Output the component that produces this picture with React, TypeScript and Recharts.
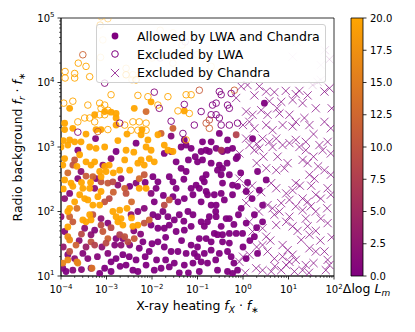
import { Bar, BarChart, ReferenceArea, Scatter, ScatterChart, XAxis, YAxis } from "recharts"

// points are [log10 x, log10 y, Δlog L_m, alpha?]
const allowedOrange = [
  [-3.81, 3.6, 20], [-3.92, 3.37, 20], [-3.92, 3.27, 20], [-3.74, 3.29, 20], [-3.26, 3.5, 20], [-3.04, 3.55, 20],
  [-2.9, 3.54, 20], [-2.79, 3.52, 20], [-2.79, 3.45, 20], [-3.23, 3.27, 20], [-3.12, 3.27, 20], [-2.79, 3.34, 20],
  [-2.39, 3.6, 20], [-2.02, 3.7, 20], [-1.29, 3.56, 20], [-2.24, 3.19, 20], [-2.22, 3.27, 20], [-3.81, 3.11, 20],
  [-3.7, 3.08, 20], [-3.56, 3.08, 20], [-2.09, 3.11, 20], [-1.87, 3.19, 20], [-4.0, 3.0, 20], [-3.85, 3.03, 20],
  [-3.37, 3.0, 20], [-3.23, 2.98, 20], [-3.04, 3.0, 20], [-2.57, 2.95, 20], [-3.92, 2.82, 20], [-3.96, 2.72, 20],
  [-3.59, 2.88, 20], [-3.45, 2.77, 20], [-3.34, 2.72, 20], [-3.26, 2.77, 20], [-3.04, 2.7, 20], [-2.94, 2.72, 20],
  [-3.01, 2.62, 20], [-3.15, 2.62, 20], [-3.12, 2.54, 20], [-2.71, 2.64, 20], [-2.49, 2.64, 20], [-3.92, 2.49, 20],
  [-3.78, 2.44, 20], [-3.74, 2.39, 20], [-3.52, 2.36, 20], [-3.37, 2.36, 20], [-3.59, 2.26, 20], [-3.48, 2.2, 20],
  [-3.41, 2.18, 20], [-3.19, 2.23, 20], [-3.12, 2.31, 20], [-2.28, 2.36, 20], [-2.13, 2.36, 20], [-2.24, 2.8, 20],
  [-2.31, 2.75, 20], [-2.17, 2.72, 20], [-2.06, 2.82, 20], [-1.95, 2.77, 20], [-2.13, 3.0, 20], [-2.02, 2.95, 20],
  [-1.73, 3.03, 20], [-1.65, 2.95, 20], [-1.54, 2.93, 20], [-3.81, 2.05, 20], [-3.85, 2.0, 20], [-3.37, 1.95, 20],
  [-3.34, 1.87, 20], [-2.86, 2.0, 20], [-2.79, 1.92, 20], [-2.71, 2.02, 20], [-2.68, 1.89, 20], [-2.75, 1.84, 20],
  [-2.64, 1.79, 20], [-2.42, 1.77, 20], [-2.31, 1.79, 20], [-3.52, 1.87, 20], [-3.45, 1.84, 20], [-3.15, 2.1, 20],
  [-3.85, 1.76, 20], [-3.85, 1.61, 17], [-3.81, 1.56, 17], [-3.63, 1.2, 16], [-3.96, 1.2, 16], [-3.85, 1.25, 17],
  [-3.65, 1.22, 16], [-3.32, 1.12, 14], [-3.65, 2.7, 20], [-3.55, 2.45, 20], [-3.35, 2.45, 20], [-2.85, 2.6, 20],
  [-2.6, 2.8, 20], [-2.4, 2.92, 20], [-2.75, 3.1, 20], [-2.55, 3.2, 20], [-3.45, 3.2, 20], [-3.95, 3.1, 20],
  [-3.3, 2.1, 20], [-2.55, 2.05, 20], [-2.45, 1.9, 20], [-3.7, 2.15, 20], [-3.95, 2.35, 20],
]

const allowedMid = [
  [-3.7, 2.8, 11], [-3.74, 2.72, 10], [-3.3, 2.54, 12], [-3.12, 2.46, 10], [-2.97, 2.44, 11], [-2.86, 2.46, 9],
  [-2.6, 2.36, 12], [-2.57, 2.28, 10], [-2.28, 2.51, 13], [-2.17, 2.57, 11], [-2.94, 2.2, 9], [-3.04, 2.15, 10],
  [-3.74, 1.84, 11], [-3.81, 1.92, 12], [-3.12, 1.79, 9], [-3.08, 1.69, 11], [-2.71, 1.64, 8], [-2.6, 1.61, 10],
  [-2.97, 1.58, 12], [-3.01, 1.51, 9], [-3.34, 1.53, 10], [-3.26, 1.48, 8], [-2.53, 1.53, 9], [-2.39, 1.58, 11],
  [-3.67, 1.48, 12], [-3.81, 1.38, 10], [-2.17, 1.82, 10], [-2.06, 1.87, 12], [-1.73, 2.1, 9], [-1.62, 2.18, 11],
  [-2.13, 3.55, 13], [-1.54, 3.29, 12], [-0.15, 3.19, 8], [-1.8, 3.21, 12], [-0.48, 2.95, 6], [-3.55, 1.65, 9],
  [-3.3, 1.95, 10], [-2.85, 2.3, 12], [-2.45, 2.15, 13], [-3.85, 2.6, 13], [-3.45, 2.55, 11], [-2.9, 1.75, 9],
  [-3.65, 2.05, 14],
]

const allowedPurple = [
  [-3.24, 3.13, 1], [-2.35, 3.06, 0], [-1.58, 3.17, 1], [-1.29, 3.11, 0], [0.47, 3.68, 0], [-0.52, 3.21, 0],
  [-0.89, 3.08, 0], [-0.7, 3.08, 0], [-0.34, 3.11, 0], [0.21, 3.13, 0], [-3.63, 2.95, 1], [-2.9, 2.82, 1],
  [-2.79, 2.93, 0], [-3.08, 2.72, 2], [-3.23, 2.51, 1], [-3.26, 2.36, 2], [-3.63, 2.51, 1], [-3.56, 2.62, 2],
  [-3.81, 2.28, 1], [-3.92, 2.2, 2], [-2.68, 2.51, 1], [-2.75, 2.41, 2], [-2.49, 2.39, 0], [-2.35, 2.44, 1],
  [-1.98, 2.54, 0], [-1.87, 2.46, 0], [-1.73, 2.9, 0], [-1.58, 2.93, 0], [-1.47, 2.77, 0], [-1.36, 2.67, 0],
  [-1.25, 2.62, 0], [-1.62, 2.54, 0], [-1.54, 2.46, 0], [-1.47, 2.36, 0], [-1.91, 2.36, 0], [-2.02, 2.28, 1],
  [-1.54, 2.23, 0], [-1.43, 2.15, 0], [-1.29, 2.2, 0], [-1.14, 2.36, 0], [-1.1, 2.26, 0], [-2.17, 2.05, 1],
  [-2.31, 2.0, 1], [-2.46, 1.95, 2], [-1.98, 1.95, 0], [-1.87, 1.92, 0], [-1.76, 2.0, 0], [-1.65, 1.92, 0],
  [-1.51, 1.87, 0], [-1.4, 1.95, 0], [-1.21, 2.0, 0], [-1.1, 1.95, 0], [-2.02, 1.79, 0], [-1.87, 1.74, 0],
  [-1.73, 1.74, 0], [-1.62, 1.79, 0], [-1.47, 1.69, 0], [-1.29, 1.71, 0], [-1.14, 1.77, 0], [-2.64, 1.58, 1],
  [-2.49, 1.48, 1], [-2.68, 1.48, 2], [-2.2, 1.53, 0], [-2.28, 1.43, 0], [-2.06, 1.38, 0], [-1.87, 1.53, 0],
  [-1.73, 1.45, 0], [-1.58, 1.38, 0], [-1.43, 1.38, 0], [-1.25, 1.35, 0], [-1.14, 1.48, 0], [-1.07, 1.35, 0],
  [-3.48, 1.74, 2], [-3.34, 1.64, 2], [-3.26, 1.71, 1], [-3.52, 1.35, 1], [-3.41, 1.27, 1], [-3.7, 1.27, 2],
  [-3.85, 1.33, 1], [-3.96, 1.12, 1], [-3.89, 1.07, 0], [-3.74, 1.09, 1], [-3.34, 1.12, 0], [-3.15, 1.04, 0],
  [-3.04, 1.12, 0], [-2.9, 1.07, 0], [-2.97, 1.35, 1], [-2.79, 1.27, 0], [-2.64, 1.33, 0], [-2.57, 1.17, 0],
  [-2.42, 1.09, 0], [-2.31, 1.07, 0], [-2.13, 1.17, 0], [-1.95, 1.09, 0], [-1.8, 1.12, 0], [-1.62, 1.14, 0],
  [-1.51, 1.2, 0], [-1.29, 1.17, 0], [-1.1, 1.2, 0], [-2.79, 1.58, 1], [-2.82, 1.48, 1], [-4.0, 1.92, 2],
  [-3.92, 1.69, 1], [-3.12, 1.89, 2], [-2.97, 1.82, 1], [-1.36, 3.0, 0], [-1.25, 3.03, 0], [-1.14, 2.98, 0],
  [-0.92, 2.93, 0], [-0.81, 2.95, 0], [-0.74, 2.93, 0], [-0.59, 2.98, 0], [-0.45, 2.93, 0], [-0.34, 2.95, 0],
  [-0.23, 2.98, 0], [-1.0, 2.77, 0], [-0.89, 2.8, 0], [-0.52, 2.72, 0], [-0.45, 2.67, 0], [-0.56, 2.64, 0],
  [-0.15, 2.82, 0], [-0.12, 2.85, 0], [-0.81, 2.57, 0], [-0.48, 2.57, 0], [-0.3, 2.57, 0], [-0.89, 2.51, 0],
  [-0.85, 2.46, 0], [0.51, 2.49, 0], [0.32, 2.62, 0], [-1.03, 2.41, 0], [-0.96, 2.36, 0], [-0.45, 2.44, 0],
  [-0.23, 2.41, 0], [-0.12, 2.39, 0], [-0.81, 2.31, 0], [-0.78, 2.26, 0], [-0.48, 2.28, 0], [-0.63, 2.26, 0],
  [-0.23, 2.26, 0], [0.07, 2.31, 0], [0.36, 2.33, 0], [-0.92, 2.15, 0], [-0.7, 2.1, 0], [-0.59, 2.1, 0],
  [-0.41, 2.18, 0], [0.43, 2.1, 0], [-0.04, 2.05, 0], [-0.74, 1.92, 0], [-0.59, 1.92, 0], [-0.37, 1.89, 0],
  [-0.3, 1.89, 0], [-0.92, 1.84, 0], [-0.78, 1.84, 0], [-0.85, 1.77, 0], [-0.48, 1.77, 0], [0.07, 1.82, 0],
  [0.43, 1.84, 0], [-0.63, 1.66, 0], [-0.56, 1.64, 0], [-0.45, 1.64, 0], [-0.3, 1.66, 0], [-0.15, 1.66, 0],
  [-0.01, 1.66, 0], [-0.96, 1.58, 0], [-0.81, 1.58, 0], [-0.7, 1.53, 0], [0.25, 1.61, 0], [-0.7, 1.4, 0],
  [-0.52, 1.35, 0], [-0.34, 1.38, 0], [-0.26, 1.3, 0], [0.32, 1.35, 0], [0.07, 1.27, 0], [-0.92, 1.22, 0],
  [-0.78, 1.2, 0], [-0.56, 1.09, 0], [-0.34, 1.07, 0], [-0.12, 1.09, 0], [-0.23, 1.04, 0], [-0.96, 1.07, 0],
  [-0.45, 1.53, 0], [-0.3, 1.51, 0], [-3.6, 1.55, 2], [-3.55, 1.1, 1], [-3.2, 1.3, 1], [-3.1, 1.45, 2],
  [-2.9, 1.22, 0], [-2.7, 1.15, 0], [-2.5, 1.3, 0], [-2.35, 1.25, 0], [-2.15, 1.3, 0], [-2.0, 1.5, 0],
  [-1.9, 1.25, 0], [-1.7, 1.25, 0], [-1.4, 1.05, 0], [-1.2, 1.05, 0], [-1.0, 1.3, 0], [-1.0, 1.45, 0],
  [-0.85, 1.35, 0], [-0.6, 1.25, 0], [-0.2, 1.2, 0], [0.0, 1.45, 0], [0.15, 1.55, 0], [-3.95, 1.45, 3],
  [-3.45, 1.45, 4], [-2.4, 1.7, 1], [-2.25, 1.65, 1], [-1.95, 2.15, 0], [-1.75, 2.25, 0], [-2.15, 2.45, 0],
  [-1.3, 2.5, 0], [-1.2, 2.8, 0], [-1.05, 2.85, 0], [-0.7, 2.75, 0], [-0.35, 2.75, 0], [-0.05, 2.6, 0],
  [0.1, 2.45, 0], [0.2, 2.2, 0], [-0.1, 1.95, 0], [0.25, 1.95, 0], [0.3, 1.75, 0], [-0.2, 1.8, 0],
  [-0.6, 2.0, 0], [-1.3, 1.85, 0], [-1.7, 1.6, 0], [-1.35, 1.55, 0],
]

const lwaPoints = [
  [-3.12, 5.02, 20, 0.45], [-2.97, 4.99, 20, 0.45], [-3.13, 4.39, 20, 0.45], [-3.62, 4.3, 20], [-3.45, 4.25, 20],
  [-3.91, 4.17, 20], [-3.91, 4.07, 20], [-3.7, 4.14, 20], [-3.7, 4.07, 20], [-3.37, 4.09, 20], [-2.57, 4.22, 20, 0.5],
  [-2.57, 4.12, 20], [-2.35, 4.04, 20], [-3.94, 3.68, 20], [-3.74, 3.71, 20], [-3.41, 3.65, 20], [-3.15, 3.68, 20],
  [-3.12, 3.6, 20], [-3.04, 3.65, 20], [-2.9, 3.81, 20], [-2.31, 3.8, 20], [-2.09, 3.78, 20], [-1.87, 3.65, 20],
  [-1.65, 3.78, 20], [-1.25, 3.81, 20], [-1.14, 3.81, 20], [-1.43, 3.56, 20], [-1.18, 3.52, 20], [-3.63, 3.39, 20],
  [-3.48, 3.45, 20], [-3.37, 3.45, 20], [-3.26, 3.39, 20], [-3.15, 3.5, 20], [-3.04, 3.5, 20], [-2.97, 3.57, 20],
  [-2.6, 3.34, 20], [-2.42, 3.39, 20], [-2.28, 3.39, 20], [-2.13, 3.37, 20], [-2.46, 3.26, 20], [-2.31, 3.26, 20],
  [-2.13, 3.26, 20], [-2.97, 3.27, 20], [-1.25, 3.11, 20], [-3.14, 4.89, 20, 0.35], [-3.08, 4.66, 20, 0.35],
  [-2.44, 4.04, 20, 0.4], [-2.42, 4.12, 20, 0.4], [-2.0, 4.38, 20, 0.35], [-1.82, 4.81, 20, 0.35],
  [-1.54, 4.77, 20, 0.35], [-1.34, 4.58, 20, 0.35], [-1.01, 4.43, 20, 0.35], [-1.54, 4.3, 20, 0.35],
  [-0.63, 4.45, 20, 0.35], [-0.7, 4.25, 20, 0.35], [-3.52, 4.43, 12], [-3.19, 3.24, 12], [-0.96, 3.88, 11],
  [-0.19, 3.88, 12], [-0.81, 3.37, 11], [-0.74, 3.42, 10], [-0.74, 3.29, 12], [-3.04, 3.99, 1], [-1.95, 3.85, 1],
  [-1.29, 3.66, 0], [-1.84, 3.6, 1], [-2.71, 3.37, 1], [-1.58, 3.4, 0], [-1.07, 3.34, 0], [-3.63, 3.23, 1],
  [-1.32, 3.21, 0], [-0.52, 3.86, 0], [-0.48, 3.81, 0], [-0.26, 3.83, 0], [-0.67, 3.65, 0], [-0.59, 3.68, 0],
  [-0.34, 3.65, 0], [-0.3, 3.6, 0], [-0.92, 3.55, 0], [-0.7, 3.5, 0], [-0.59, 3.5, 0], [-0.48, 3.34, 0],
  [-0.3, 3.34, 0], [-0.12, 3.37, 0], [-0.52, 3.45, 0], [-1.82, 4.38, 0, 0.35], [-1.27, 4.63, 0, 0.35],
]

const chandraPoints = [
  [1.09, 4.4, 0, 0.2], [1.71, 4.27, 0, 0.2], [1.9, 4.36, 0, 0.2], [1.53, 3.96, 0, 0.25], [1.64, 4.01, 0, 0.25],
  [1.71, 4.04, 0, 0.25], [0.07, 4.12, 0, 0.2], [0.5, 4.1, 0, 0.2], [1.18, 4.63, 0, 0.2], [1.8, 4.5, 0, 0.2],
  [0.1, 3.96, 0], [0.36, 3.94, 0], [0.51, 3.86, 0], [0.69, 3.85, 0], [0.58, 3.71, 0], [0.94, 3.87, 0],
  [1.16, 3.82, 0], [1.24, 3.87, 0], [1.42, 3.8, 0], [1.79, 3.86, 0], [1.9, 3.91, 0], [0.84, 3.7, 0],
  [1.09, 3.73, 0], [1.31, 3.68, 0], [0.07, 3.55, 0], [0.21, 3.5, 0], [0.4, 3.57, 0], [0.54, 3.5, 0],
  [0.8, 3.52, 0], [1.02, 3.5, 0], [1.35, 3.45, 0], [1.46, 3.34, 0], [1.79, 3.39, 0], [1.93, 3.29, 0],
  [0.0, 3.34, 0], [0.14, 3.39, 0], [0.25, 3.29, 0], [0.51, 3.34, 0], [0.65, 3.26, 0], [0.87, 3.34, 0],
  [1.09, 3.32, 0], [1.16, 3.39, 0], [0.43, 3.13, 0], [0.58, 3.08, 0], [0.73, 3.13, 0], [1.02, 3.06, 0],
  [1.16, 3.11, 0], [1.38, 3.08, 0], [0.07, 3.13, 0], [0.14, 3.03, 0], [0.87, 3.03, 0], [1.68, 3.03, 0],
  [1.86, 3.08, 0], [-0.15, 3.76, 0], [-0.04, 3.94, 0], [-0.08, 2.51, 0], [0.07, 2.36, 0], [0.14, 2.26, 0],
  [0.07, 2.13, 0], [-0.08, 2.9, 0], [0.25, 2.95, 0], [0.36, 2.98, 0], [0.65, 3.0, 0], [0.76, 2.85, 0],
  [0.51, 2.67, 0], [0.73, 2.64, 0], [0.91, 2.67, 0], [0.98, 2.75, 0], [1.24, 3.0, 0], [1.38, 2.95, 0],
  [1.31, 2.8, 0], [1.42, 2.75, 0], [1.75, 2.95, 0], [1.93, 2.9, 0], [1.79, 2.64, 0], [1.93, 2.57, 0],
  [1.46, 2.57, 0], [1.57, 2.51, 0], [0.62, 2.44, 0], [0.73, 2.36, 0], [1.16, 2.44, 0], [1.09, 2.33, 0],
  [0.95, 2.28, 0], [1.02, 2.18, 0], [0.84, 2.13, 0], [0.54, 2.1, 0], [0.65, 2.05, 0], [0.69, 1.95, 0],
  [1.31, 2.2, 0], [1.42, 2.15, 0], [1.6, 2.26, 0], [1.71, 2.2, 0], [1.86, 2.36, 0], [1.93, 2.26, 0],
  [1.16, 2.08, 0], [1.31, 2.02, 0], [1.49, 2.08, 0], [1.6, 2.0, 0], [1.71, 1.89, 0], [1.86, 1.82, 0],
  [0.14, 1.84, 0], [0.21, 1.69, 0], [0.43, 1.74, 0], [0.51, 1.61, 0], [0.73, 1.79, 0], [1.02, 1.92, 0],
  [0.95, 1.84, 0], [1.09, 1.77, 0], [1.38, 1.89, 0], [1.42, 1.77, 0], [1.46, 1.64, 0], [1.28, 1.56, 0],
  [0.87, 1.48, 0], [0.98, 1.4, 0], [1.09, 1.33, 0], [1.16, 1.25, 0], [0.87, 1.3, 0], [1.02, 1.22, 0],
  [0.95, 1.17, 0], [0.0, 1.3, 0], [-0.08, 1.22, 0], [0.14, 1.33, 0], [0.43, 1.48, 0], [0.54, 1.38, 0],
  [0.69, 1.27, 0], [1.38, 1.17, 0], [1.31, 1.09, 0], [1.79, 1.38, 0], [1.86, 1.25, 0], [1.82, 1.09, 0],
  [1.9, 1.17, 0], [0.29, 1.12, 0], [0.43, 1.09, 0], [0.62, 1.07, 0], [0.84, 1.09, 0], [1.13, 1.07, 0],
  [1.46, 1.43, 0], [1.6, 1.38, 0], [0.3, 2.75, 0], [0.45, 2.85, 0], [1.55, 2.85, 0], [1.65, 2.7, 0],
  [0.2, 2.4, 0], [0.4, 2.3, 0], [1.25, 2.4, 0], [1.5, 2.4, 0], [0.35, 2.0, 0], [0.8, 2.0, 0],
  [1.85, 2.05, 0], [0.3, 1.45, 0], [0.6, 1.55, 0], [1.2, 1.7, 0], [1.6, 1.7, 0], [1.7, 1.55, 0],
  [1.55, 1.2, 0], [0.05, 1.05, 0], [0.7, 1.15, 0], [1.45, 1.05, 0], [0.25, 3.8, 0], [0.75, 3.6, 0],
  [1.6, 3.6, 0], [1.55, 3.2, 0], [0.3, 3.05, 0], [1.95, 3.6, 0], [1.95, 1.6, 0],
]

const xMajor = [-4, -3, -2, -1, 0, 1, 2]
const yMajor = [1, 2, 3, 4, 5]
const cbarTicks = [0, 2.5, 5, 7.5, 10, 12.5, 15, 17.5, 20]
const legendLabels = ["Allowed by LWA and Chandra", "Excluded by LWA", "Excluded by Chandra"]

const FONT = "DejaVu Sans, sans-serif"
const PURPLE = [128, 0, 128]
const ORANGE = [255, 165, 0]

const cmap = (c: number) => {
  const t = Math.min(1, Math.max(0, c / 20))
  const ch = PURPLE.map((p, i) => Math.round(p + (ORANGE[i] - p) * t))
  return `rgb(${ch[0]},${ch[1]},${ch[2]})`
}

const toRows = (pts: number[][]) =>
  pts.map(([lx, ly, c, a]) => ({ x: Math.pow(10, lx), y: Math.pow(10, ly), c, a: a ?? 1 }))

const allowedData = toRows([...allowedPurple, ...allowedMid, ...allowedOrange])
const lwaData = toRows(lwaPoints)
const chandraData = toRows(chandraPoints)

// log ticks: decades plus 2..9 minors
const logTicks = (exps: number[]) => {
  const out: number[] = []
  exps.forEach((e, i) => {
    out.push(Math.pow(10, e))
    if (i < exps.length - 1) for (let k = 2; k < 10; k++) out.push(k * Math.pow(10, e))
  })
  return out
}
const xTicks = logTicks(xMajor)
const yTicks = logTicks(yMajor)

const isMajor = (v: number) => {
  const e = Math.log10(v)
  return Math.abs(e - Math.round(e)) < 1e-6
}
const expLabel = (v: number) => String(Math.round(Math.log10(v))).replace("-", "\u2212")

const XTick = ({ x, y, payload }: any) => {
  const major = isMajor(payload.value)
  return (
    <g>
      <line x1={x} x2={x} y1={y} y2={y + (major ? 3.5 : 2)} stroke="#000" strokeWidth={major ? 0.8 : 0.6} />
      {major && (
        <text x={x} y={y + 17} textAnchor="middle" fontFamily={FONT} fontSize={10} fill="#000">
          10<tspan dy={-4.5} fontSize={7}>{expLabel(payload.value)}</tspan>
        </text>
      )}
    </g>
  )
}

const YTick = ({ x, y, payload }: any) => {
  const major = isMajor(payload.value)
  return (
    <g>
      <line x1={x} x2={x - (major ? 3.5 : 2)} y1={y} y2={y} stroke="#000" strokeWidth={major ? 0.8 : 0.6} />
      {major && (
        <text x={x - 6.5} y={y + 3.5} textAnchor="end" fontFamily={FONT} fontSize={10} fill="#000">
          10<tspan dy={-4.5} fontSize={7}>{expLabel(payload.value)}</tspan>
        </text>
      )}
    </g>
  )
}

const CbarTick = ({ x, y, payload }: any) => (
  <g>
    <line x1={x} x2={x + 3.5} y1={y} y2={y} stroke="#000" strokeWidth={0.8} />
    <text x={x + 7} y={y + 3.6} fontFamily={FONT} fontSize={10} fill="#000">
      {payload.value.toFixed(1)}
    </text>
  </g>
)

const filledDot = (p: any) => (
  <circle cx={p.cx} cy={p.cy} r={3.4} fill={cmap(p.payload.c)} fillOpacity={0.95 * p.payload.a} />
)
const hollowDot = (p: any) => (
  <circle cx={p.cx} cy={p.cy} r={3.3} fill="none" stroke={cmap(p.payload.c)} strokeWidth={1} strokeOpacity={0.9 * p.payload.a} />
)
const crossMark = (p: any) => {
  const s = 4.1
  return (
    <path
      d={`M${p.cx - s},${p.cy - s}L${p.cx + s},${p.cy + s}M${p.cx - s},${p.cy + s}L${p.cx + s},${p.cy - s}`}
      stroke={cmap(p.payload.c)}
      strokeWidth={1}
      strokeOpacity={0.72 * p.payload.a}
      fill="none"
    />
  )
}

const LegendBox = () => (
  <div
    style={{
      position: "absolute", left: 96, top: 24, width: 230, height: 59, boxSizing: "border-box",
      background: "rgba(255,255,255,0.8)", border: "1px solid #d0d0d0", borderRadius: 3,
      fontFamily: FONT, fontSize: 12.5, color: "#000",
    }}
  >
    {legendLabels.map((label, i) => (
      <div key={label} style={{ position: "absolute", left: 0, top: 2 + i * 18.3, height: 18, display: "flex", alignItems: "center" }}>
        <svg width={40} height={18} style={{ display: "block" }}>
          {i === 0 && <circle cx={18} cy={9} r={3.4} fill={cmap(0)} />}
          {i === 1 && <circle cx={18} cy={9} r={3.3} fill="none" stroke={cmap(0)} strokeWidth={1} />}
          {i === 2 && <path d="M13.9,4.9L22.1,13.1M13.9,13.1L22.1,4.9" stroke={cmap(0)} strokeOpacity={0.75} strokeWidth={1} />}
        </svg>
        <span style={{ whiteSpace: "nowrap" }}>{label}</span>
      </div>
    ))}
  </div>
)

export default function App() {
  return (
    <div style={{ position: "absolute", left: 0, top: 0, width: 415, height: 332, background: "#fff" }}>
      <div style={{ position: "absolute", left: 0, top: 0 }}>
        <ScatterChart width={415} height={332} margin={{ top: 18, right: 81, bottom: 26, left: 1 }}>
          <XAxis
            type="number" dataKey="x" scale="log" domain={[1e-4, 1e2]} ticks={xTicks} allowDataOverflow height={30}
            tick={<XTick />} tickLine={false} tickSize={0} tickMargin={0} stroke="#000" strokeWidth={0.8} interval={0}
            label={{
              content: ({ viewBox }: any) => (
                <text x={viewBox.x + viewBox.width / 2} y={viewBox.y + 34} textAnchor="middle" fontFamily={FONT} fontSize={12.5} fill="#000">
                  X-ray heating <tspan fontStyle="italic">f</tspan><tspan dy={2.5} fontSize={9} fontStyle="italic">X</tspan>
                  <tspan dy={-2.5}> · </tspan><tspan fontStyle="italic">f</tspan><tspan dy={2.5} fontSize={9}>∗</tspan>
                </text>
              ),
            }}
          />
          <YAxis
            type="number" dataKey="y" scale="log" domain={[10, 1e5]} ticks={yTicks} allowDataOverflow
            tick={<YTick />} tickLine={false} tickSize={0} tickMargin={0} stroke="#000" strokeWidth={0.8} interval={0} width={60}
            label={{
              content: () => (
                <text x={0} y={0} transform="translate(22,147) rotate(-90)" textAnchor="middle" fontFamily={FONT} fontSize={12.5} fill="#000">
                  Radio background <tspan fontStyle="italic">f</tspan><tspan dy={2.5} fontSize={9} fontStyle="italic">r</tspan>
                  <tspan dy={-2.5}> · </tspan><tspan fontStyle="italic">f</tspan><tspan dy={2.5} fontSize={9}>∗</tspan>
                </text>
              ),
            }}
          />
          <Scatter data={allowedData} shape={filledDot} isAnimationActive={false} />
          <Scatter data={lwaData} shape={hollowDot} isAnimationActive={false} />
          <Scatter data={chandraData} shape={crossMark} isAnimationActive={false} />
          <ReferenceArea x1={1e-4} x2={1e2} y1={10} y2={1e5} fill="none" stroke="#000" strokeWidth={0.8} ifOverflow="visible" />
        </ScatterChart>
      </div>
      <div style={{ position: "absolute", left: 0, top: 0 }}>
        <BarChart width={415} height={332} data={[{ name: "cbar", v: 20 }]} margin={{ top: 18, right: 12, bottom: 56, left: 351 }} barCategoryGap={0}>
          <defs>
            <linearGradient id="cbarGrad" x1="0" y1="0" x2="0" y2="1">
              <stop offset="0%" stopColor={cmap(20)} />
              <stop offset="100%" stopColor={cmap(0)} />
            </linearGradient>
          </defs>
          <XAxis dataKey="name" hide />
          <YAxis
            orientation="right" type="number" domain={[0, 20]} ticks={cbarTicks} interval={0} width={40}
            axisLine={false} tickLine={false} tickSize={0} tickMargin={0} tick={<CbarTick />}
            label={{
              content: ({ viewBox }: any) => (
                <text x={viewBox.x + 3.5} y={293} textAnchor="middle" fontFamily={FONT} fontSize={12.5} fill="#000">
                  Δlog <tspan fontStyle="italic">L</tspan><tspan dy={2.5} fontSize={9} fontStyle="italic">m</tspan>
                </text>
              ),
            }}
          />
          <Bar dataKey="v" fill="url(#cbarGrad)" stroke="#000" strokeWidth={0.8} isAnimationActive={false} />
        </BarChart>
      </div>
      <LegendBox />
    </div>
  )
}
